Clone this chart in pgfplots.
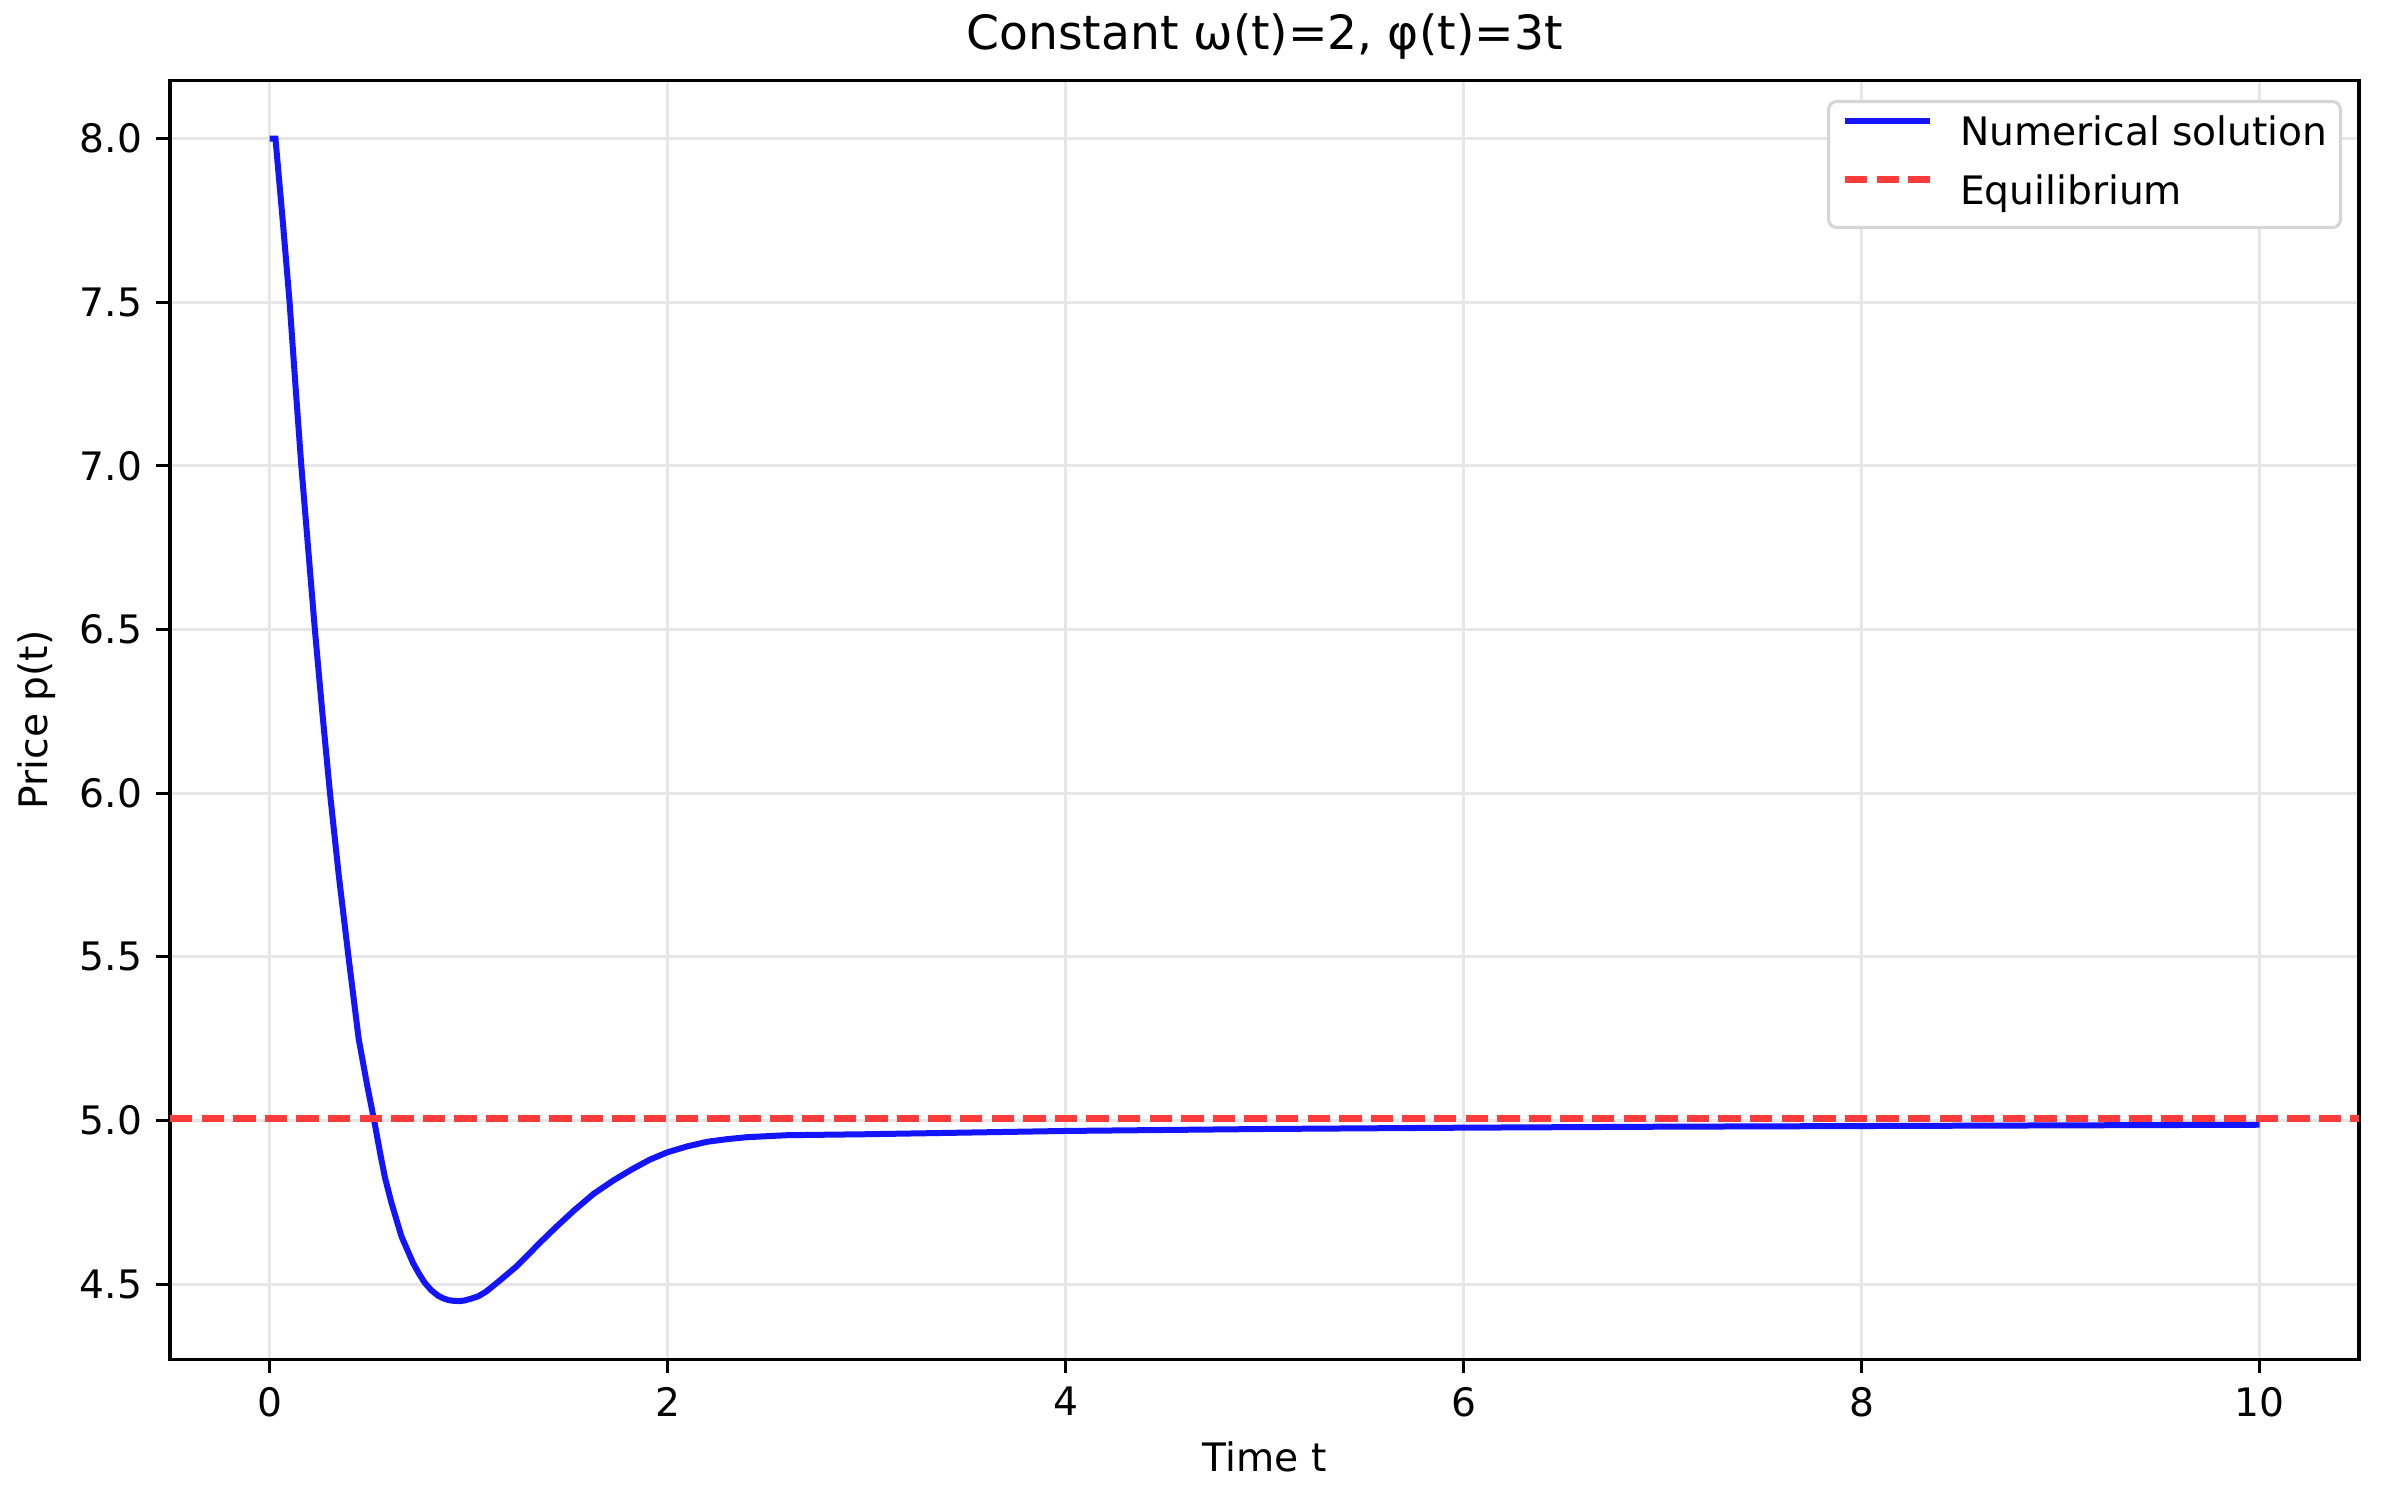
\documentclass[border=0pt]{standalone}
\usepackage{fontspec}
\setmainfont{DejaVu Sans}
\usepackage{pgfplots}
\pgfplotsset{compat=1.18}

\definecolor{solblue}{RGB}{20,20,255}
\definecolor{eqred}{RGB}{255,60,60}
\definecolor{gridgray}{RGB}{231,231,231}
\definecolor{legedge}{RGB}{214,214,214}

\newcommand{\tickfont}{\fontsize{9.8bp}{11.8bp}\selectfont}

\begin{document}
\begin{tikzpicture}
\begin{axis}[
  scale only axis, width=547.25bp, height=319.75bp,
  xmin=-0.5, xmax=10.5, ymin=4.270, ymax=8.178,
  xtick={0,2,...,10}, ytick={4.5,5,...,8},
  y tick label style={/pgf/number format/.cd, fixed, fixed zerofill, precision=1, /tikz/.cd},
  /pgf/number format/assume math mode=true,
  tick align=outside, tick pos=left,
  major tick length=3.43bp,
  tick style={black, line width=0.78bp},
  axis line style={line width=0.78bp},
  grid=major, major grid style={gridgray, line width=0.78bp},
  tick label style={font=\tickfont, text=black},
  label style={font=\tickfont},
  xlabel={Time t}, ylabel={Price p(t)},
  xlabel style={at={(axis description cs:0.5,-0.0879)}, anchor=base},
  ylabel style={at={(axis description cs:-0.0559,0.5)}, anchor=base},
  title={Constant ω(t)=2, φ(t)=3t},
  every axis title shift=0pt,
  title style={font=\fontsize{11.8bp}{14bp}\selectfont, at={(axis description cs:0.5,1.0244)}, anchor=base},
  legend cell align=left,
  legend image code/.code={\draw[#1] (0bp,3.6bp) -- (21.25bp,3.6bp); \path (27.9bp,0bp);},
  legend style={at={(axis description cs:0.99223,0.98468)}, anchor=north east,
    draw=legedge, line width=0.78bp, rounded corners=2bp, fill=white,
    inner xsep=3.2bp, inner ysep=3.5bp, row sep=4.9bp, font=\tickfont,
    nodes={inner sep=0pt, text height=7.5bp, text depth=2.3bp}},
]
\addplot[solblue, line width=1.5bp] coordinates {
(0.000,8.000) (0.030,8.000) (0.065,7.760) (0.101,7.500) (0.130,7.250)
(0.160,7.000) (0.194,6.750) (0.228,6.500) (0.265,6.250) (0.304,6.000)
(0.348,5.750) (0.397,5.500) (0.448,5.250) (0.490,5.110) (0.526,5.000)
(0.557,4.897) (0.580,4.826) (0.614,4.746) (0.663,4.646) (0.721,4.565)
(0.750,4.533) (0.779,4.505) (0.812,4.482) (0.846,4.465) (0.875,4.456)
(0.900,4.451) (0.925,4.449) (0.953,4.448) (0.980,4.450) (1.010,4.455)
(1.050,4.463) (1.088,4.477) (1.125,4.495) (1.165,4.515) (1.243,4.555)
(1.300,4.590) (1.358,4.626) (1.436,4.672) (1.532,4.726) (1.629,4.776)
(1.726,4.816) (1.822,4.851) (1.910,4.880) (2.000,4.903) (2.100,4.921)
(2.200,4.935) (2.300,4.943) (2.400,4.949) (2.600,4.955) (3.000,4.958)
(3.500,4.963) (4.000,4.968) (5.000,4.974) (6.000,4.978) (7.000,4.981)
(8.000,4.983) (9.000,4.985) (10.000,4.987)
};
\addlegendentry{Numerical solution}
\addplot[eqred, line width=1.75bp, dash pattern=on 5.6bp off 2.3bp] coordinates {(-0.5,5.006) (10.5,5.006)};
\addlegendentry{Equilibrium}
\end{axis}
\pgfresetboundingbox
\path[use as bounding box] ([xshift=-42.5bp,yshift=-32.6bp]current axis.south west) rectangle ([xshift=5.75bp,yshift=20.1bp]current axis.north east);
\end{tikzpicture}
\end{document}
